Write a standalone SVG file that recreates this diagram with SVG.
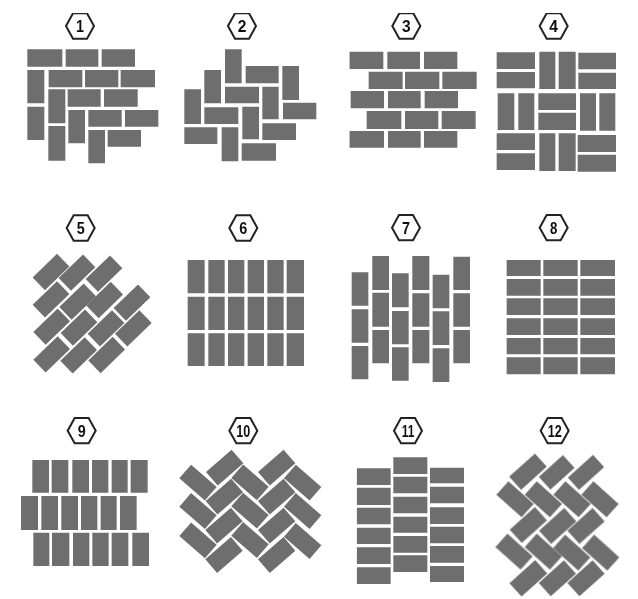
<svg xmlns="http://www.w3.org/2000/svg" width="638" height="599" viewBox="0 0 638 599">
<style>
.b{fill:#6e6e6e}
.h{fill:#fff;stroke:#222;stroke-width:6;stroke-linejoin:miter}
.t{font-family:"Liberation Sans",Arial,sans-serif;font-weight:700;font-size:52px;fill:#111;text-anchor:middle}
</style>
<defs>
<filter id="soft" x="0" y="0" width="1" height="1"><feGaussianBlur stdDeviation="0.75"/></filter>
<polygon id="hex" points="-42,0 -21,-38 21,-38 42,0 21,38 -21,38"/>
<rect id="d" class="b" x="-53" y="-29" width="106" height="58"/>
</defs>
<rect width="638" height="599" fill="#fff"/>
<g filter="url(#soft)">
<g id="pattern-1" transform="scale(.33333)">
<use href="#hex" class="h" x="240" y="78"/><text class="t" x="240" y="96" textLength="24" lengthAdjust="spacingAndGlyphs">1</text>
<path class="b" d="M82 148H187V200H82ZM197 148H295V200H197ZM305 148H405V200H305ZM82 210H133V310H82ZM146 210H247V262H146ZM255 210H355V262H255ZM362 210H465V262H362ZM145 268H196V370H145ZM203 268H302V320H203ZM312 268H413V320H312ZM82 320H133V420H82ZM205 330H255V430H205ZM265 330H365V380H265ZM375 330H475V380H375ZM145 378H196V482H145ZM265 390H315V490H265ZM323 390H423V440H323Z"/>
</g>
<g id="pattern-2" transform="scale(.33333)">
<use href="#hex" class="h" x="726" y="78"/><text class="t" x="726" y="96" textLength="26" lengthAdjust="spacingAndGlyphs">2</text>
<path class="b" d="M675 148H725V250H675ZM737 198H836V250H737ZM847 198H897V300H847ZM613 210H663V310H613ZM675 260H777V310H675ZM787 260H836V358H787ZM849 308H949V358H849ZM553 268H603V372H553ZM613 322H715V372H613ZM727 320H777V418H727ZM787 370H888V420H787ZM553 382H652V432H553ZM665 382H715V484H665ZM725 430H828V482H725Z"/>
</g>
<g id="pattern-3" transform="translate(320 0) scale(.33333)">
<use href="#hex" class="h" x="259" y="78"/><text class="t" x="259" y="96" textLength="26" lengthAdjust="spacingAndGlyphs">3</text>
<path class="b" d="M88 155H190V207H88ZM202 155H300V207H202ZM312 155H412V207H312ZM146 215H248V267H146ZM255 215H358V267H255ZM367 215H470V267H367ZM92 273H192V325H92ZM204 273H302V325H204ZM314 273H414V325H314ZM140 333H244V387H140ZM255 333H355V387H255ZM365 333H467V387H365ZM88 393H192V443H88ZM204 393H302V443H204ZM312 393H412V443H312Z"/>
</g>
<g id="pattern-4" transform="translate(320 0) scale(.33333)">
<use href="#hex" class="h" x="701" y="78"/><text class="t" x="701" y="96" textLength="26" lengthAdjust="spacingAndGlyphs">4</text>
<path class="b" d="M530 157H645V207H530ZM530 216H645V265H530ZM658 155H706V267H658ZM716 155H767V267H716ZM775 158H888V208H775ZM775 218H888V267H775ZM533 280H583V390H533ZM595 280H643V390H595ZM655 280H768V330H655ZM655 338H768V390H655ZM780 280H828V392H780ZM838 280H886V392H838ZM530 400H645V450H530ZM530 460H645V510H530ZM658 400H706V513H658ZM716 400H767V513H716ZM773 405H888V456H773ZM773 464H888V515H773Z"/>
</g>
<g id="pattern-5" transform="translate(0 200) scale(.33333)">
<use href="#hex" class="h" x="242" y="84"/><text class="t" x="242" y="102" textLength="24" lengthAdjust="spacingAndGlyphs">5</text>
<use href="#d" transform="translate(153 216) rotate(-44) scale(.96 .92)"/>
<use href="#d" transform="translate(231 218) rotate(-44) scale(.96 .92)"/>
<use href="#d" transform="translate(312 221) rotate(-44) scale(.96 .92)"/>
<use href="#d" transform="translate(153 298) rotate(-44) scale(.96 .92)"/>
<use href="#d" transform="translate(233 305) rotate(-44) scale(.96 .92)"/>
<use href="#d" transform="translate(314 300) rotate(-44) scale(.96 .92)"/>
<use href="#d" transform="translate(396 308) rotate(-44) scale(.96 .92)"/>
<use href="#d" transform="translate(155 380) rotate(-44) scale(.96 .92)"/>
<use href="#d" transform="translate(237 383) rotate(-44) scale(.96 .92)"/>
<use href="#d" transform="translate(318 385) rotate(-44) scale(.96 .92)"/>
<use href="#d" transform="translate(400 385) rotate(-44) scale(.96 .92)"/>
<use href="#d" transform="translate(155 463) rotate(-44) scale(.96 .92)"/>
<use href="#d" transform="translate(236 466) rotate(-44) scale(.96 .92)"/>
<use href="#d" transform="translate(320 465) rotate(-44) scale(.96 .92)"/>
</g>
<g id="pattern-6" transform="translate(0 200) scale(.33333)">
<use href="#hex" class="h" x="730" y="84"/><text class="t" x="730" y="102" textLength="24" lengthAdjust="spacingAndGlyphs">6</text>
<path class="b" d="M563 180H614V280H563ZM625 180H674V280H625ZM684 180H733V280H684ZM743 180H792V280H743ZM802 180H851V280H802ZM860 180H912V280H860ZM563 290H614V390H563ZM625 290H674V390H625ZM684 290H733V390H684ZM743 290H792V390H743ZM802 290H851V390H802ZM860 290H912V390H860ZM563 400H614V498H563ZM625 400H674V498H625ZM684 400H733V498H684ZM743 400H792V498H743ZM802 400H851V498H802ZM860 400H912V498H860Z"/>
</g>
<g id="pattern-7" transform="translate(320 200) scale(.33333)">
<use href="#hex" class="h" x="258" y="83"/><text class="t" x="258" y="101" textLength="24" lengthAdjust="spacingAndGlyphs">7</text>
<path class="b" d="M95 217H145V317H95ZM95 328H145V428H95ZM95 438H145V538H95ZM157 168H207V270H157ZM157 278H207V380H157ZM157 390H207V490H157ZM216 220H266V322H216ZM216 333H266V433H216ZM216 442H266V542H216ZM277 168H328V270H277ZM277 280H328V380H277ZM277 390H328V490H277ZM338 224H388V325H338ZM338 334H388V435H338ZM338 445H388V546H338ZM400 170H450V270H400ZM400 280H450V380H400ZM400 390H450V490H400Z"/>
</g>
<g id="pattern-8" transform="translate(320 200) scale(.33333)">
<use href="#hex" class="h" x="701" y="83"/><text class="t" x="701" y="101" textLength="22" lengthAdjust="spacingAndGlyphs">8</text>
<path class="b" d="M560 180H662V228H560ZM670 180H773V228H670ZM781 180H885V228H781ZM560 237H662V287H560ZM670 237H773V287H670ZM781 237H885V287H781ZM560 295H662V345H560ZM670 295H773V345H670ZM781 295H885V345H781ZM560 355H662V405H560ZM670 355H773V405H670ZM781 355H885V405H781ZM560 414H662V463H560ZM670 414H773V463H670ZM781 414H885V463H781ZM560 472H662V523H560ZM670 472H773V523H670ZM781 472H885V523H781Z"/>
</g>
<g id="pattern-9" transform="translate(0 400) scale(.33333)">
<use href="#hex" class="h" x="245" y="92"/><text class="t" x="245" y="110" textLength="24" lengthAdjust="spacingAndGlyphs">9</text>
<path class="b" d="M97 180H147V278H97ZM155 180H205V278H155ZM217 180H267V278H217ZM276 180H325V278H276ZM335 180H383V278H335ZM392 180H443V278H392ZM63 288H114V390H63ZM124 288H174V390H124ZM184 288H234V390H184ZM243 288H292V390H243ZM302 288H350V390H302ZM360 288H410V390H360ZM100 398H148V498H100ZM156 398H208V498H156ZM219 398H268V498H219ZM277 398H326V498H277ZM335 398H385V498H335ZM397 398H447V498H397Z"/>
</g>
<g id="pattern-10" transform="translate(0 400) scale(.33333)">
<use href="#hex" class="h" x="730" y="92"/><text class="t" x="730" y="110" textLength="42" lengthAdjust="spacingAndGlyphs">10</text>
<use href="#d" transform="translate(594 248) rotate(41) scale(.96 .93)"/>
<use href="#d" transform="translate(674 203) rotate(-41) scale(.96 .93)"/>
<use href="#d" transform="translate(750 247) rotate(41) scale(.96 .93)"/>
<use href="#d" transform="translate(830 203) rotate(-41) scale(.96 .93)"/>
<use href="#d" transform="translate(908 248) rotate(41) scale(.96 .93)"/>
<use href="#d" transform="translate(673 290) rotate(-41) scale(.96 .93)"/>
<use href="#d" transform="translate(830 290) rotate(-41) scale(.96 .93)"/>
<use href="#d" transform="translate(594 333) rotate(41) scale(.96 .93)"/>
<use href="#d" transform="translate(750 332) rotate(41) scale(.96 .93)"/>
<use href="#d" transform="translate(908 333) rotate(41) scale(.96 .93)"/>
<use href="#d" transform="translate(672 377) rotate(-41) scale(.96 .93)"/>
<use href="#d" transform="translate(830 377) rotate(-41) scale(.96 .93)"/>
<use href="#d" transform="translate(594 421) rotate(41) scale(.96 .93)"/>
<use href="#d" transform="translate(750 420) rotate(41) scale(.96 .93)"/>
<use href="#d" transform="translate(908 423) rotate(41) scale(.96 .93)"/>
<use href="#d" transform="translate(672 465) rotate(-41) scale(.96 .93)"/>
<use href="#d" transform="translate(830 465) rotate(-41) scale(.96 .93)"/>
</g>
<g id="pattern-11" transform="translate(320 400) scale(.33333)">
<use href="#hex" class="h" x="264" y="92"/><text class="t" x="264" y="110" textLength="38" lengthAdjust="spacingAndGlyphs">11</text>
<path class="b" d="M110 205H212V255H110ZM110 263H212V315H110ZM110 323H212V373H110ZM110 383H212V432H110ZM110 442H212V492H110ZM110 502H212V552H110ZM220 172H322V222H220ZM220 230H322V280H220ZM220 290H322V340H220ZM220 350H322V398H220ZM220 408H322V458H220ZM220 466H322V516H220ZM330 203H432V250H330ZM330 260H432V310H330ZM330 322H432V372H330ZM330 380H432V430H330ZM330 438H432V488H330ZM330 498H432V546H330Z"/>
</g>
<g id="pattern-12" transform="translate(320 400) scale(.33333)">
<use href="#hex" class="h" x="704" y="92"/><text class="t" x="704" y="110" textLength="42" lengthAdjust="spacingAndGlyphs">12</text>
<use href="#d" transform="translate(624 215) rotate(-42) scale(.98 .92)"/>
<use href="#d" transform="translate(710 217) rotate(-42) scale(.92 .9)"/>
<use href="#d" transform="translate(798 217) rotate(-42) scale(.96 .86)"/>
<use href="#d" transform="translate(585 298) rotate(42) scale(.96 .93)"/>
<use href="#d" transform="translate(670 298) rotate(42) scale(.96 .93)"/>
<use href="#d" transform="translate(756 298) rotate(42) scale(.96 .93)"/>
<use href="#d" transform="translate(840 298) rotate(42) scale(.96 .93)"/>
<use href="#d" transform="translate(625 375) rotate(-42) scale(.96 .93)"/>
<use href="#d" transform="translate(713 378) rotate(-42) scale(.96 .93)"/>
<use href="#d" transform="translate(798 378) rotate(-42) scale(.96 .93)"/>
<use href="#d" transform="translate(582 455) rotate(42) scale(.96 .93)"/>
<use href="#d" transform="translate(670 455) rotate(42) scale(.96 .93)"/>
<use href="#d" transform="translate(755 458) rotate(42) scale(.96 .93)"/>
<use href="#d" transform="translate(842 458) rotate(42) scale(.96 .93)"/>
<use href="#d" transform="translate(625 535) rotate(-42) scale(.98 .93)"/>
<use href="#d" transform="translate(712 535) rotate(-42) scale(.96 .93)"/>
<use href="#d" transform="translate(798 535) rotate(-42) scale(.96 .93)"/>
</g>
</g>
</svg>
